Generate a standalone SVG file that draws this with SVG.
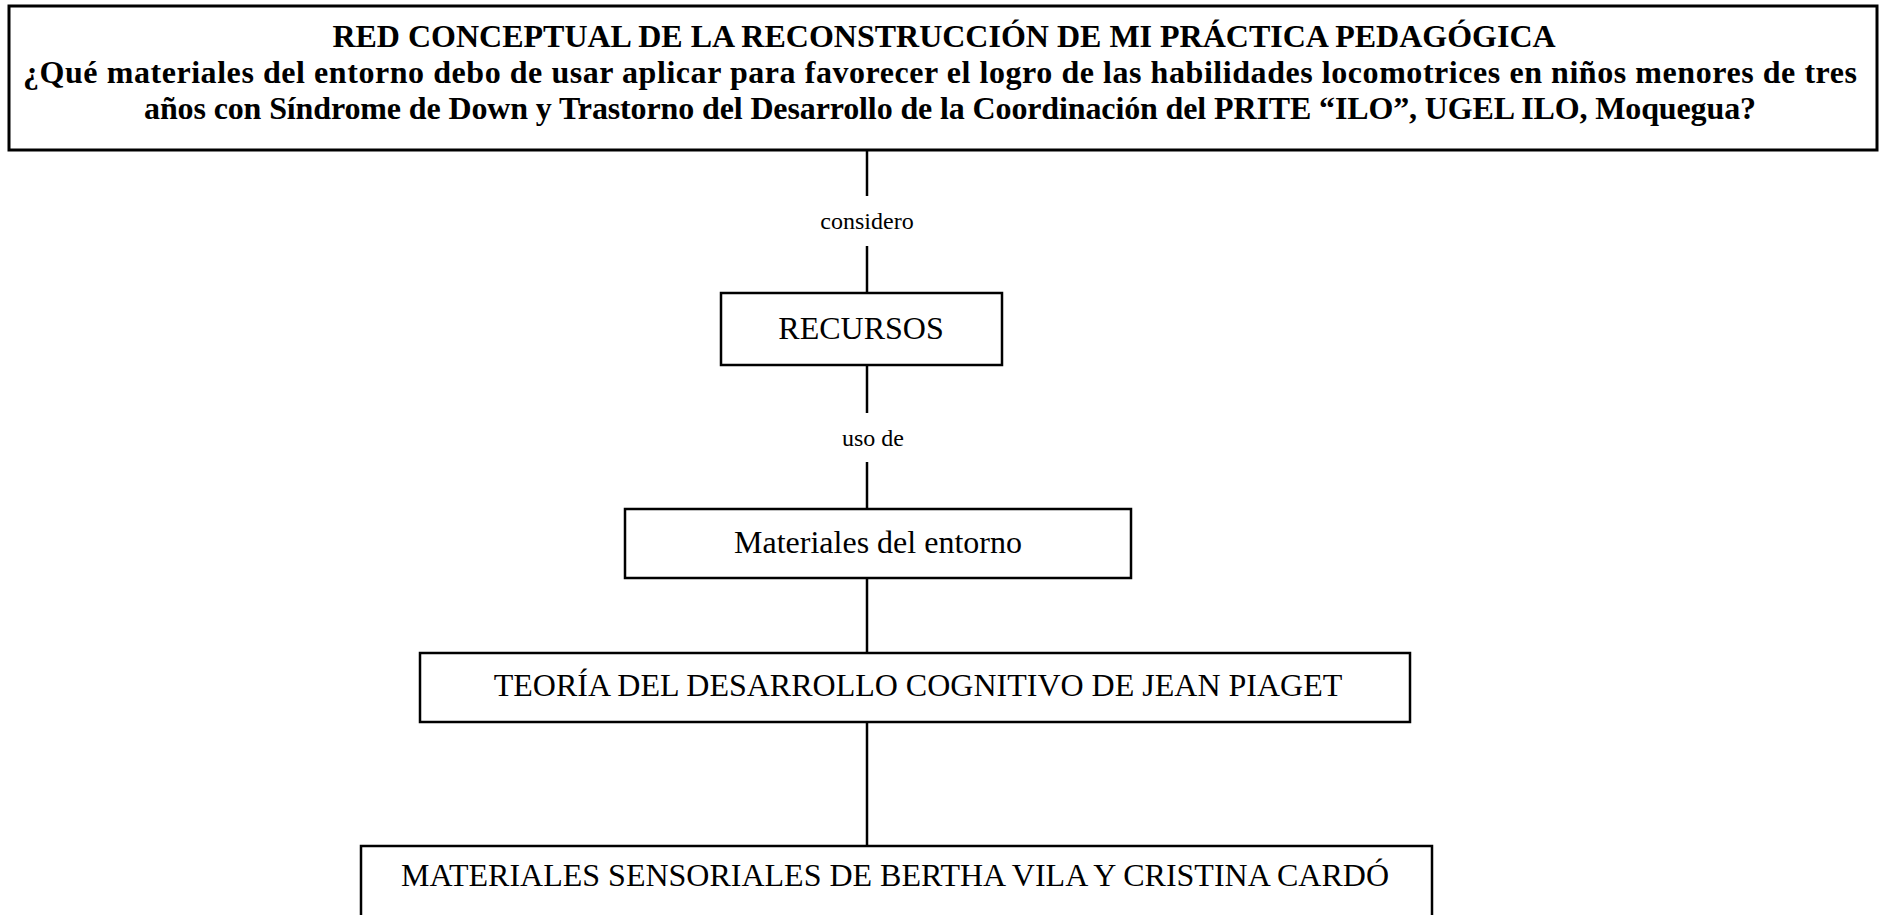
<svg xmlns="http://www.w3.org/2000/svg" width="1879" height="915" viewBox="0 0 1879 915">
<style>
.box{fill:#fff;stroke:#000;stroke-width:2.5}
.title{fill:#fff;stroke:#000;stroke-width:3}
.t{font-family:"Liberation Serif","Times New Roman",serif;fill:#000;text-anchor:middle}
.tb{font-weight:bold;font-size:32px}
.n{font-size:32px}
.l{font-size:24px}
.c{stroke:#000;stroke-width:2.5;fill:none}
</style>
<rect width="1879" height="915" fill="#fff"/>
<g id="connectors">
<line class="c" x1="867" y1="150" x2="867" y2="196"/>
<line class="c" x1="867" y1="246" x2="867" y2="293"/>
<line class="c" x1="867" y1="365" x2="867" y2="413"/>
<line class="c" x1="867" y1="462" x2="867" y2="509"/>
<line class="c" x1="867" y1="578" x2="867" y2="653"/>
<line class="c" x1="867" y1="722" x2="867" y2="846"/>
<text class="t l" x="867" y="229">considero</text>
<text class="t l" x="873" y="446">uso de</text>
</g>
<g id="title">
<rect class="title" x="9" y="6" width="1868" height="144"/>
<text class="t tb" x="944" y="47">RED CONCEPTUAL DE LA RECONSTRUCCIÓN DE MI PRÁCTICA PEDAGÓGICA</text>
<text class="t tb" x="940" y="83" textLength="1834" lengthAdjust="spacing">¿Qué materiales del entorno debo de usar aplicar para favorecer el logro de las habilidades locomotrices en niños menores de tres</text>
<text class="t tb" x="950" y="119" textLength="1612" lengthAdjust="spacing">años con Síndrome de Down y Trastorno del Desarrollo de la Coordinación del PRITE “ILO”, UGEL ILO, Moquegua?</text>
</g>
<g id="recursos">
<rect class="box" x="721" y="293" width="281" height="72"/>
<text class="t n" x="861" y="339">RECURSOS</text>
</g>
<g id="materiales-entorno">
<rect class="box" x="625" y="509" width="506" height="69"/>
<text class="t n" x="878" y="553">Materiales del entorno</text>
</g>
<g id="teoria-piaget">
<rect class="box" x="420" y="653" width="990" height="69"/>
<text class="t n" x="918" y="696">TEORÍA DEL DESARROLLO COGNITIVO DE JEAN PIAGET</text>
</g>
<g id="materiales-sensoriales">
<rect class="box" x="361" y="846" width="1071" height="100"/>
<text class="t n" x="895" y="886">MATERIALES SENSORIALES DE BERTHA VILA Y CRISTINA CARDÓ</text>
</g>
</svg>
